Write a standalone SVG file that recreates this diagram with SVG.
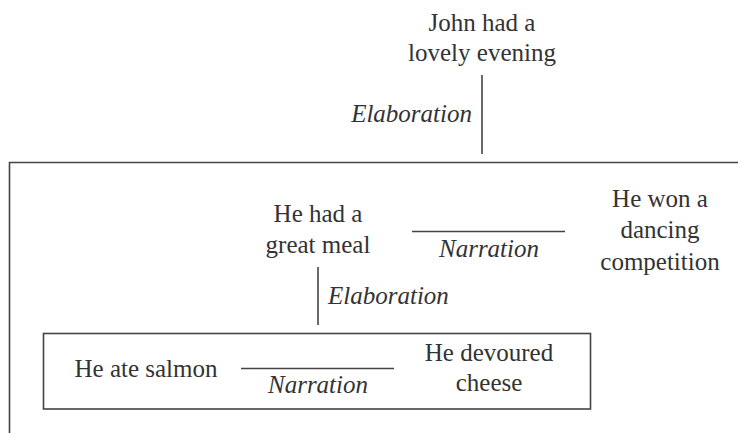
<svg xmlns="http://www.w3.org/2000/svg" width="738" height="433" viewBox="0 0 738 433">
<rect width="738" height="433" fill="#fff"/>
<g id="boxes" stroke="#444" stroke-width="1.6" fill="none">
<path d="M738,162.5 H9.5 V433"/>
<rect x="43.5" y="333.5" width="547" height="75.5"/>
</g>
<g id="john"><text x="482" y="31" font-family="Liberation Serif" font-size="25" fill="#333" text-anchor="middle">John had a</text><text x="482" y="61" font-family="Liberation Serif" font-size="25" fill="#333" text-anchor="middle">lovely evening</text></g>
<g id="meal"><text x="318" y="222" font-family="Liberation Serif" font-size="25" fill="#333" text-anchor="middle">He had a</text><text x="318" y="253" font-family="Liberation Serif" font-size="25" fill="#333" text-anchor="middle">great meal</text></g>
<g id="dance"><text x="660" y="207" font-family="Liberation Serif" font-size="25" fill="#333" text-anchor="middle">He won a</text><text x="660" y="238" font-family="Liberation Serif" font-size="25" fill="#333" text-anchor="middle">dancing</text><text x="660" y="270" font-family="Liberation Serif" font-size="25" fill="#333" text-anchor="middle">competition</text></g>
<g id="salmon"><text x="146" y="377" font-family="Liberation Serif" font-size="25" fill="#333" text-anchor="middle">He ate salmon</text></g>
<g id="cheese"><text x="489" y="361" font-family="Liberation Serif" font-size="25" fill="#333" text-anchor="middle">He devoured</text><text x="489" y="391" font-family="Liberation Serif" font-size="25" fill="#333" text-anchor="middle">cheese</text></g>
<g id="connectors">
<g stroke="#444" stroke-width="1.6">
<line x1="482" y1="75" x2="482" y2="154"/>
<line x1="412" y1="231.5" x2="565" y2="231.5"/>
<line x1="318" y1="267" x2="318" y2="325"/>
<line x1="241" y1="368.5" x2="394" y2="368.5"/>
</g>
<text x="472" y="122" font-family="Liberation Serif" font-size="25" fill="#333" font-style="italic" text-anchor="end">Elaboration</text>
<text x="489" y="257" font-family="Liberation Serif" font-size="25" fill="#333" font-style="italic" text-anchor="middle">Narration</text>
<text x="328" y="304" font-family="Liberation Serif" font-size="25" fill="#333" font-style="italic" text-anchor="start">Elaboration</text>
<text x="318" y="393" font-family="Liberation Serif" font-size="25" fill="#333" font-style="italic" text-anchor="middle">Narration</text>
</g>
</svg>
